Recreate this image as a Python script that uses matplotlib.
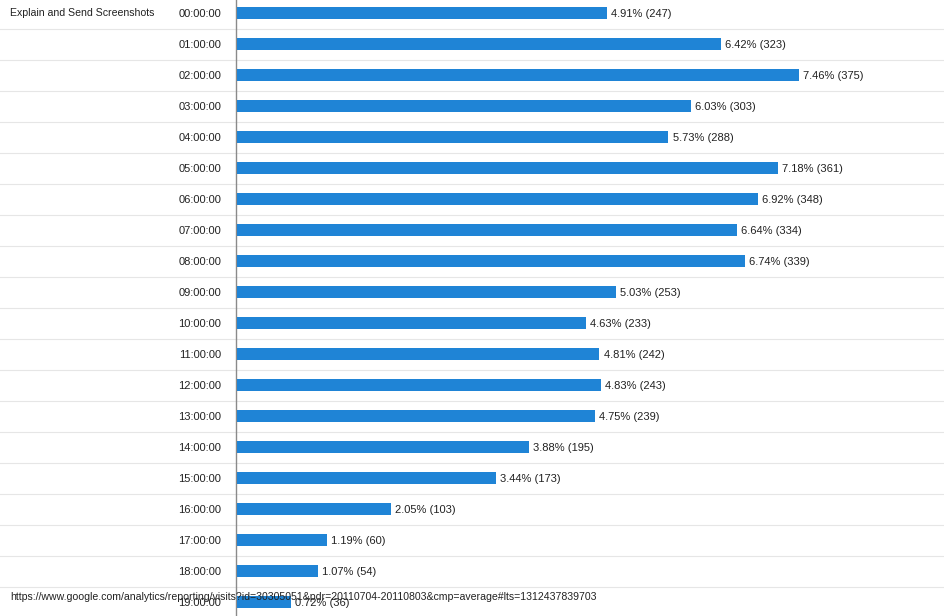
import matplotlib.pyplot as plt

plt.rcParams['font.family'] = ['Liberation Sans', 'DejaVu Sans']

# -------------------------------
# Data: visits by hour of day
# -------------------------------
hours = ['%02d:00:00' % h for h in range(20)]
pct = [4.91, 6.42, 7.46, 6.03, 5.73, 7.18, 6.92, 6.64, 6.74, 5.03,
       4.63, 4.81, 4.83, 4.75, 3.88, 3.44, 2.05, 1.19, 1.07, 0.72]
visits = [247, 323, 375, 303, 288, 361, 348, 334, 339, 253,
          233, 242, 243, 239, 195, 173, 103, 60, 54, 36]

title = "Explain and Send Screenshots"
url = ("https://www.google.com/analytics/reporting/visits?id=30305051"
       "&pdr=20110704-20110803&cmp=average#lts=1312437839703")

W, H = 944, 616
left_px = 236
fig = plt.figure(figsize=(W / 100, H / 100), dpi=100)
fig.patch.set_facecolor('white')
ax = fig.add_axes([left_px / W, 0, 1 - left_px / W, 1])

ypos = list(range(len(hours)))
ax.barh(ypos, visits, height=0.39, color='#1f84d6', zorder=3)

# pixel scale: ~1.5 px per visit
ax.set_xlim(-0.6, (W - left_px) / 1.5)
ax.set_ylim((H - 13) / 31, -13 / 31)

for y, v, p in zip(ypos, visits, pct):
    ax.annotate('%.2f%% (%d)' % (p, v), xy=(v, y), xytext=(3, -0.8),
                textcoords='offset points', va='center', ha='left',
                fontsize=8, color='#222222', zorder=4)

# row separators across whole width
frac = left_px / (W - left_px)
for y in ypos:
    ax.axhline(y + 0.53, xmin=-frac, xmax=1, color='#e6e6e6',
               linewidth=0.8, clip_on=False, zorder=1)

ax.set_yticks(ypos)
ax.set_yticklabels(hours, fontsize=8, color='#222222')
ax.tick_params(axis='y', length=0, pad=10.5)
ax.set_xticks([])
for s in ['top', 'right', 'bottom']:
    ax.spines[s].set_visible(False)
ax.spines['left'].set_color('#8a8a8a')
ax.spines['left'].set_linewidth(1)
ax.set_facecolor('none')

fig.text(10 / W, 1 - 13 / H, title, fontsize=7.6, color='#222222',
         va='center', ha='left')
# print footer overlaps the last row, as in the original screenshot
fig.text(10 / W, 1 - 597 / H, url, fontsize=7.6, color='#222222',
         va='center', ha='left', zorder=10)

plt.savefig('out.png', dpi=100)
plt.close()
